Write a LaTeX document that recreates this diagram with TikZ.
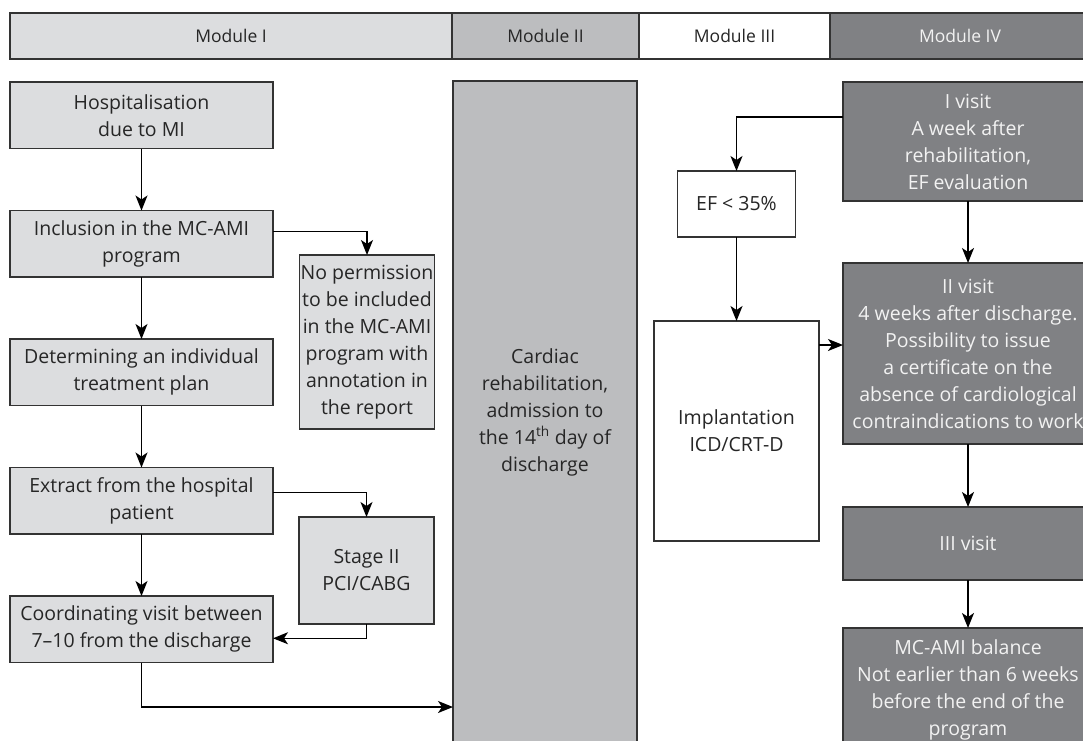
\documentclass[tikz,border=0pt]{standalone}
\usepackage{fontspec}
\setmainfont{Open Sans}
\usetikzlibrary{positioning, arrows.meta}
\definecolor{mod_light}{HTML}{DCDDDF}
\definecolor{mod_mid}{HTML}{BCBDBF}
\definecolor{mod_dark}{HTML}{808184}
\definecolor{mod_edge}{HTML}{333333}
\definecolor{mod_text}{HTML}{F2F2F2}

\begin{document}
\begin{tikzpicture}[
                x=1pt, y=-1pt,
                node distance=62pt,
                every node/.style={align=center, inner sep=0pt, outer sep=0pt, text=black!85, font=\fontsize{19.5}{27}\selectfont},
                head/.style={rectangle, draw=mod_edge, line width=1.5pt, minimum height=46pt, font=\fontsize{17.5}{20}\selectfont},
                box/.style={rectangle, draw=mod_edge, line width=1.5pt, fill=mod_light, minimum width=263pt, minimum height=66.5pt},
                sidebox/.style={box, minimum width=135pt},
                whitebox/.style={rectangle, draw=mod_edge, line width=1.5pt, fill=white},
                darkbox/.style={rectangle, draw=mod_edge, line width=1.5pt, fill=mod_dark, text=mod_text, minimum width=250pt},
                arrow/.style={line width=1.3pt, -{Stealth[length=15pt, width=12pt, inset=4pt]}}
            ]
                \useasboundingbox (0,0) rectangle (1083,740);
                \clip (0,0) rectangle (1083,740);

                % Header
                \node (mod1) [head, fill=mod_light, minimum width=442pt, anchor=north west] at (10,13) {Module I};
                \node (mod2) [head, fill=mod_mid, minimum width=187pt, right=0pt of mod1] {Module II};
                \node (mod3) [head, fill=white, minimum width=191pt, right=0pt of mod2] {Module III};
                \node (mod4) [head, fill=mod_dark, text=mod_text, minimum width=260pt, right=0pt of mod3] {Module IV};

                % Module I
                \node (hosp) [box, anchor=north west] at (10,82) {Hospitalisation\\due to MI};
                \node (incl) [box, below=of hosp] {Inclusion in the MC-AMI\\program};
                \node (plan) [box, below=of incl] {Determining an individual\\treatment plan};
                \node (extract) [box, below=of plan] {Extract from the hospital\\patient};
                \node (coord) [box, below=of extract] {Coordinating visit between\\7--10 from the discharge};
                \node (noperm) [sidebox, minimum height=174pt] at (367,342) {No permission\\to be included\\in the MC-AMI\\program with\\annotation in\\the report};
                \node (stage) [sidebox, minimum height=107pt] at (366.5,570.5) {Stage II\\PCI/CABG};

                % Module II
                \node (rehab) [rectangle, draw=mod_edge, line width=1.5pt, fill=mod_mid, minimum width=184pt, minimum height=662pt] at (545,412) {Cardiac\\rehabilitation,\\admission to\\the 14\textsuperscript{th} day of\\discharge};
                \coordinate (rehabin) at (453,707);

                % Module III
                \node (ef) [whitebox, minimum width=118pt, minimum height=66pt] at (736.5,204) {EF < 35\%};
                \node (impl) [whitebox, minimum width=165pt, minimum height=220pt, below=84pt of ef] {Implantation\\ICD/CRT-D};

                % Module IV
                \node (visit1) [darkbox, minimum height=119pt, anchor=north west] at (843,82) {I visit\\A week after\\rehabilitation,\\EF evaluation};
                \node (visit2) [darkbox, minimum height=181pt, below=62pt of visit1] {II visit\\4 weeks after discharge.\\Possibility to issue\\a certificate on the\\absence of cardiological\\contraindications to work};
                \node (visit3) [darkbox, minimum height=73pt, below=63pt of visit2] {III visit};
                \node (balance) [darkbox, minimum height=124pt, below=48pt of visit3] {MC-AMI balance\\Not earlier than 6 weeks\\before the end of the\\program};

                % Arrows
                \draw [arrow] (hosp) -- (incl);
                \draw [arrow] (incl) -- (plan);
                \draw [arrow] (plan) -- (extract);
                \draw [arrow] (extract) -- (coord);
                \draw [arrow] ([yshift=12pt]incl.east) -| (noperm.north);
                \draw [arrow] ([yshift=8pt]extract.east) -| (stage.north);
                \draw [arrow] (stage.south) |- ([yshift=-9pt]coord.east);
                \draw [arrow] (coord.south) |- (rehabin);
                \draw [arrow] ([yshift=24.5pt]visit1.west) -| (ef.north);
                \draw [arrow] (ef) -- (impl);
                \draw [arrow] ([yshift=86pt]impl.east) -- ([yshift=86pt]impl.east -| visit2.west);
                \draw [arrow] (visit1) -- (visit2);
                \draw [arrow] (visit2) -- (visit3);
                \draw [arrow] (visit3) -- (balance);
            \end{tikzpicture}
\end{document}
